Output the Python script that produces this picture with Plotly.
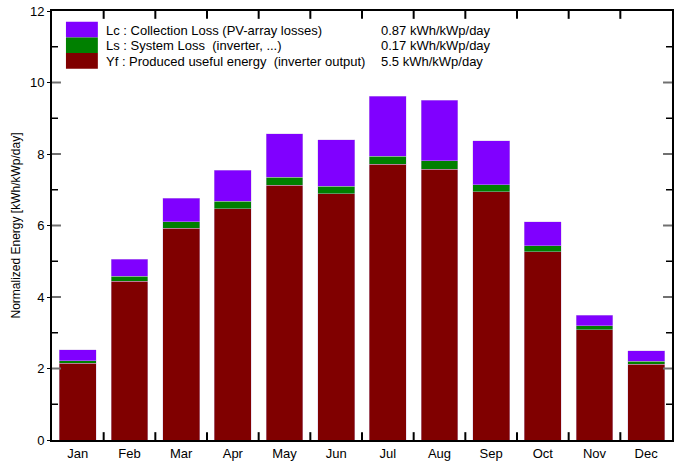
import plotly.graph_objects as go

# Monthly normalized productions (kWh/kWp/day)
months = ["Jan", "Feb", "Mar", "Apr", "May", "Jun",
          "Jul", "Aug", "Sep", "Oct", "Nov", "Dec"]
yf = [2.15, 4.44, 5.92, 6.47, 7.13, 6.89, 7.72, 7.58, 6.94, 5.27, 3.09, 2.12]
ls = [0.07, 0.14, 0.19, 0.21, 0.22, 0.21, 0.22, 0.23, 0.20, 0.16, 0.11, 0.08]
lc = [0.30, 0.47, 0.65, 0.87, 1.22, 1.30, 1.67, 1.70, 1.23, 0.67, 0.29, 0.29]

series_names = [
    "Lc : Collection Loss (PV-array losses)",
    "Ls : System Loss  (inverter, ...)",
    "Yf : Produced useful energy  (inverter output)",
]
series_values = ["0.87 kWh/kWp/day", "0.17 kWh/kWp/day", "5.5 kWh/kWp/day"]
series_colors = ["#8000ff", "#008000", "#800000"]

Y_MAX = 12
W, H = 678, 465
ML, MR, MT, MB = 52, 4, 8, 19
PW, PH = W - ML - MR, H - MT - MB

fig = go.Figure()
edge = dict(width=0.6, color="rgba(210,190,230,0.7)")
for vals, col in [(yf, series_colors[2]), (ls, series_colors[1]), (lc, series_colors[0])]:
    fig.add_trace(go.Bar(x=months, y=vals, marker=dict(color=col, line=edge),
                         showlegend=False, hoverinfo="skip"))


def px_x(px):
    return (px - ML) / PW


def px_y(py):
    return (H - MB - py) / PH


shapes = []
annotations = []

# Hand-drawn legend block inside the plot area
row_top = 19
row_h = 16
for i, (name, val, col) in enumerate(zip(series_names, series_values, series_colors)):
    y0 = row_top + i * row_h
    shapes.append(dict(type="rect", xref="paper", yref="paper",
                       x0=px_x(66), x1=px_x(98), y0=px_y(y0 + row_h), y1=px_y(y0),
                       fillcolor=col, line=dict(width=0), layer="above"))
    yc = px_y(y0 + row_h / 2 + 0.5)
    annotations.append(dict(xref="paper", yref="paper", x=px_x(104), y=yc,
                            text=name, showarrow=False, xanchor="left", yanchor="middle",
                            font=dict(size=13, color="#000")))
    annotations.append(dict(xref="paper", yref="paper", x=px_x(380), y=yc,
                            text=val, showarrow=False, xanchor="left", yanchor="middle",
                            font=dict(size=13, color="#000")))

# Inward tick marks on all four sides of the frame
XT = 8 / PH            # month-boundary tick length (bottom/top)
YT_MAJ = 9 / PW        # major value tick length (left/right)
YT_MIN = 6 / PW        # minor value tick length
for k in range(1, len(months)):
    xb = k - 0.5
    for ya, yb in [(0, XT), (1, 1 - XT)]:
        shapes.append(dict(type="line", xref="x", yref="paper", x0=xb, x1=xb,
                           y0=ya, y1=yb, line=dict(color="#000", width=2),
                           layer="above"))
for v in range(1, Y_MAX):
    major = v % 2 == 0
    ln = YT_MAJ if major else YT_MIN
    col = "#707070" if major else "#000"
    wd = 2 if major else 1.5
    for xa, xb in [(0, ln), (1, 1 - ln)]:
        shapes.append(dict(type="line", xref="paper", yref="y", x0=xa, x1=xb,
                           y0=v, y1=v, line=dict(color=col, width=wd),
                           layer="above"))

fig.update_layout(
    width=W, height=H,
    margin=dict(l=ML, r=MR, t=MT, b=MB),
    barmode="stack",
    bargap=0.285,
    plot_bgcolor="white",
    paper_bgcolor="white",
    font=dict(family="Liberation Sans, Arial, sans-serif", size=13, color="#000"),
    shapes=shapes,
    annotations=annotations,
    xaxis=dict(
        type="category",
        ticks="", ticklen=0,
        showline=True, linewidth=2, linecolor="#000", mirror=True,
        showgrid=False, tickfont=dict(size=13),
    ),
    yaxis=dict(
        range=[0, Y_MAX], dtick=2, tick0=0,
        ticks="outside", ticklen=3, tickwidth=1, tickcolor="#000",
        showline=True, linewidth=2, linecolor="#000", mirror=True,
        showgrid=False, zeroline=False, tickfont=dict(size=13),
        title=dict(text="Normalized Energy [kWh/kWp/day]", font=dict(size=12), standoff=7),
    ),
)

fig.write_html("out.html")
